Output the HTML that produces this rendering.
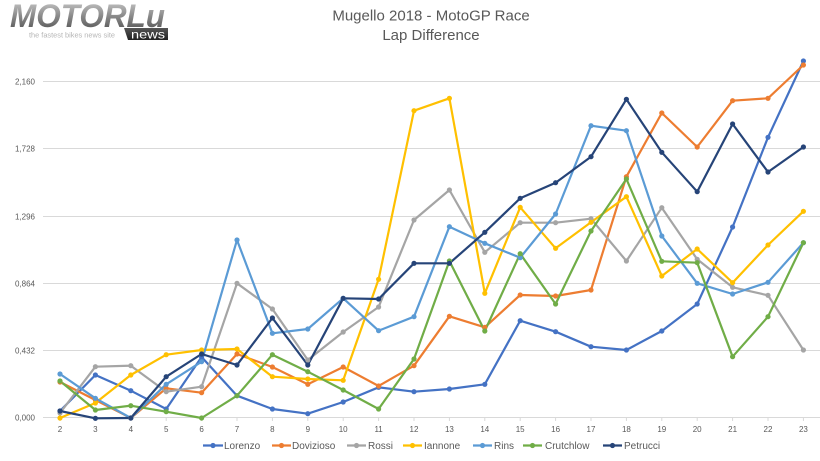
<!DOCTYPE html>
<html><head><meta charset="utf-8"><style>
html,body{margin:0;padding:0;background:#fff;}
svg{display:block;}
text{font-family:"Liberation Sans",sans-serif;}
</style></head><body>
<svg width="820" height="461" viewBox="0 0 820 461" xmlns="http://www.w3.org/2000/svg">
<defs>
<linearGradient id="lg" x1="0" y1="0" x2="0" y2="1">
<stop offset="0" stop-color="#d0d0d0"/><stop offset="0.5" stop-color="#8a8a8a"/><stop offset="1" stop-color="#4a4a4a"/>
</linearGradient>
<linearGradient id="ng" x1="0" y1="0" x2="0" y2="1">
<stop offset="0" stop-color="#555"/><stop offset="1" stop-color="#222"/>
</linearGradient>
</defs>
<rect width="820" height="461" fill="#fff"/>
<!-- logo -->
<text x="10" y="27" font-size="32" font-weight="bold" font-style="italic" fill="url(#lg)" textLength="155" lengthAdjust="spacingAndGlyphs">MOTORLu</text>
<text x="29" y="37.5" font-size="7" fill="#b5b5b5" textLength="86" lengthAdjust="spacingAndGlyphs">the fastest bikes news site</text>
<polygon points="124,28 168,28 168,40 128,40" fill="url(#ng)"/>
<text x="131" y="38.5" font-size="11.5" fill="#fff" textLength="34" lengthAdjust="spacingAndGlyphs">news</text>
<!-- title -->
<text x="431" y="20.5" font-size="15" fill="#595959" text-anchor="middle">Mugello 2018 - MotoGP Race</text>
<text x="431" y="40" font-size="15" fill="#595959" text-anchor="middle">Lap Difference</text>
<!-- grid -->
<g stroke="#d9d9d9" stroke-width="1">
<line x1="43" y1="81.5" x2="820" y2="81.5"/>
<line x1="43" y1="148.5" x2="820" y2="148.5"/>
<line x1="43" y1="216.5" x2="820" y2="216.5"/>
<line x1="43" y1="283.5" x2="820" y2="283.5"/>
<line x1="43" y1="350.5" x2="820" y2="350.5"/>
<line x1="43" y1="417.5" x2="820" y2="417.5"/>
</g>
<g stroke="#d9d9d9" stroke-width="1">
<line x1="60" y1="417" x2="60" y2="421"/><line x1="95.4" y1="417" x2="95.4" y2="421"/><line x1="130.8" y1="417" x2="130.8" y2="421"/><line x1="166.2" y1="417" x2="166.2" y2="421"/><line x1="201.6" y1="417" x2="201.6" y2="421"/><line x1="237" y1="417" x2="237" y2="421"/><line x1="272.4" y1="417" x2="272.4" y2="421"/><line x1="307.8" y1="417" x2="307.8" y2="421"/><line x1="343.2" y1="417" x2="343.2" y2="421"/><line x1="378.6" y1="417" x2="378.6" y2="421"/><line x1="414" y1="417" x2="414" y2="421"/><line x1="449.4" y1="417" x2="449.4" y2="421"/><line x1="484.8" y1="417" x2="484.8" y2="421"/><line x1="520.2" y1="417" x2="520.2" y2="421"/><line x1="555.6" y1="417" x2="555.6" y2="421"/><line x1="591" y1="417" x2="591" y2="421"/><line x1="626.4" y1="417" x2="626.4" y2="421"/><line x1="661.8" y1="417" x2="661.8" y2="421"/><line x1="697.2" y1="417" x2="697.2" y2="421"/><line x1="732.6" y1="417" x2="732.6" y2="421"/><line x1="768" y1="417" x2="768" y2="421"/><line x1="803.4" y1="417" x2="803.4" y2="421"/>
</g>
<!-- y labels -->
<g font-size="8" fill="#595959" text-anchor="end">
<text x="35" y="84.5">2,160</text>
<text x="35" y="151.5">1,728</text>
<text x="35" y="219.5">1,296</text>
<text x="35" y="286.5">0,864</text>
<text x="35" y="353.5">0,432</text>
<text x="35" y="420.5">0,000</text>
</g>
<!-- x labels -->
<g font-size="8" fill="#595959" text-anchor="middle">
<text x="60" y="432">2</text><text x="95.4" y="432">3</text><text x="130.8" y="432">4</text><text x="166.2" y="432">5</text><text x="201.6" y="432">6</text><text x="237" y="432">7</text><text x="272.4" y="432">8</text><text x="307.8" y="432">9</text><text x="343.2" y="432">10</text><text x="378.6" y="432">11</text><text x="414" y="432">12</text><text x="449.4" y="432">13</text><text x="484.8" y="432">14</text><text x="520.2" y="432">15</text><text x="555.6" y="432">16</text><text x="591" y="432">17</text><text x="626.4" y="432">18</text><text x="661.8" y="432">19</text><text x="697.2" y="432">20</text><text x="732.6" y="432">21</text><text x="768" y="432">22</text><text x="803.4" y="432">23</text>
</g>
<!-- series -->
<g fill="none" stroke-width="2.2" stroke-linejoin="round">
<polyline stroke="#4472C4" points="60,411 95.4,375 130.8,390.7 166.2,409 201.6,357 237,395.7 272.4,409 307.8,413.7 343.2,402 378.6,387.3 414,391.7 449.4,389 484.8,384.3 520.2,320.7 555.6,331.7 591,346.7 626.4,350 661.8,331 697.2,304 732.6,227 768,137.3 803.4,61"/>
<polyline stroke="#ED7D31" points="60,382 95.4,400 130.8,418 166.2,388.3 201.6,392.7 237,354 272.4,367 307.8,384.3 343.2,367 378.6,386 414,365.7 449.4,316.3 484.8,327.3 520.2,295 555.6,296 591,290 626.4,176.7 661.8,113 697.2,147 732.6,100.7 768,98.3 803.4,65"/>
<polyline stroke="#A5A5A5" points="60,413 95.4,366.7 130.8,365.7 166.2,391.7 201.6,386.7 237,283.3 272.4,309 307.8,360 343.2,332 378.6,307 414,220 449.4,190 484.8,252.3 520.2,222.7 555.6,222.7 591,218.7 626.4,261 661.8,207.7 697.2,259.3 732.6,287.3 768,295.3 803.4,350"/>
<polyline stroke="#FFC000" points="60,418 95.4,403 130.8,375 166.2,354.7 201.6,350 237,349 272.4,376.7 307.8,379 343.2,380.3 378.6,279.3 414,110.7 449.4,98.3 484.8,293.3 520.2,207.3 555.6,248.3 591,222.3 626.4,196.7 661.8,276 697.2,249 732.6,282.7 768,245 803.4,211.3"/>
<polyline stroke="#5B9BD5" points="60,374 95.4,398.3 130.8,418 166.2,384.3 201.6,361.7 237,240 272.4,333.3 307.8,329 343.2,298.3 378.6,330.7 414,316.7 449.4,226.7 484.8,243.3 520.2,257.7 555.6,214 591,125.7 626.4,130.7 661.8,236 697.2,283.3 732.6,294 768,282.3 803.4,242.7"/>
<polyline stroke="#70AD47" points="60,381 95.4,410 130.8,405.7 166.2,411.7 201.6,418 237,395.7 272.4,354.7 307.8,371.7 343.2,390 378.6,409 414,359 449.4,261 484.8,331 520.2,253.7 555.6,304 591,231 626.4,179 661.8,261.3 697.2,262.7 732.6,356.7 768,316.7 803.4,242.7"/>
<polyline stroke="#264478" points="60,411 95.4,418.3 130.8,418 166.2,376.7 201.6,354 237,365 272.4,318 307.8,365 343.2,298.3 378.6,299 414,263.3 449.4,263.3 484.8,232.3 520.2,198.3 555.6,182.7 591,156.7 626.4,99.3 661.8,152.3 697.2,191.7 732.6,124 768,172 803.4,147"/>
</g>
<!-- markers -->
<g id="markers"></g>
<script>
(function(){
var S=[
["#4472C4",[411,375,390.7,409,357,395.7,409,413.7,402,387.3,391.7,389,384.3,320.7,331.7,346.7,350,331,304,227,137.3,61]],
["#ED7D31",[382,400,418,388.3,392.7,354,367,384.3,367,386,365.7,316.3,327.3,295,296,290,176.7,113,147,100.7,98.3,65]],
["#A5A5A5",[413,366.7,365.7,391.7,386.7,283.3,309,360,332,307,220,190,252.3,222.7,222.7,218.7,261,207.7,259.3,287.3,295.3,350]],
["#FFC000",[418,403,375,354.7,350,349,376.7,379,380.3,279.3,110.7,98.3,293.3,207.3,248.3,222.3,196.7,276,249,282.7,245,211.3]],
["#5B9BD5",[374,398.3,418,384.3,361.7,240,333.3,329,298.3,330.7,316.7,226.7,243.3,257.7,214,125.7,130.7,236,283.3,294,282.3,242.7]],
["#70AD47",[381,410,405.7,411.7,418,395.7,354.7,371.7,390,409,359,261,331,253.7,304,231,179,261.3,262.7,356.7,316.7,242.7]],
["#264478",[411,418.3,418,376.7,354,365,318,365,298.3,299,263.3,263.3,232.3,198.3,182.7,156.7,99.3,152.3,191.7,124,172,147]]
];
var g=document.getElementById("markers"),ns="http://www.w3.org/2000/svg";
S.forEach(function(s){s[1].forEach(function(y,i){var c=document.createElementNS(ns,"circle");c.setAttribute("cx",60+i*35.4);c.setAttribute("cy",y);c.setAttribute("r",2.6);c.setAttribute("fill",s[0]);g.appendChild(c);});});
})();
</script>
<!-- legend -->
<g stroke-width="2.2">
<line x1="203" y1="445.5" x2="223" y2="445.5" stroke="#4472C4"/>
<line x1="272" y1="445.5" x2="291" y2="445.5" stroke="#ED7D31"/>
<line x1="347" y1="445.5" x2="366" y2="445.5" stroke="#A5A5A5"/>
<line x1="403" y1="445.5" x2="422" y2="445.5" stroke="#FFC000"/>
<line x1="473" y1="445.5" x2="492" y2="445.5" stroke="#5B9BD5"/>
<line x1="523" y1="445.5" x2="542" y2="445.5" stroke="#70AD47"/>
<line x1="603" y1="445.5" x2="622" y2="445.5" stroke="#264478"/>
</g>
<g>
<circle cx="213" cy="445.5" r="2.6" fill="#4472C4"/>
<circle cx="281.5" cy="445.5" r="2.6" fill="#ED7D31"/>
<circle cx="356.5" cy="445.5" r="2.6" fill="#A5A5A5"/>
<circle cx="412.5" cy="445.5" r="2.6" fill="#FFC000"/>
<circle cx="482.5" cy="445.5" r="2.6" fill="#5B9BD5"/>
<circle cx="532.5" cy="445.5" r="2.6" fill="#70AD47"/>
<circle cx="612.5" cy="445.5" r="2.6" fill="#264478"/>
</g>
<g font-size="10" fill="#595959">
<text x="224" y="449">Lorenzo</text>
<text x="292" y="449">Dovizioso</text>
<text x="368" y="449">Rossi</text>
<text x="424" y="449">Iannone</text>
<text x="494" y="449">Rins</text>
<text x="545" y="449">Crutchlow</text>
<text x="624" y="449">Petrucci</text>
</g>
</svg>
</body></html>
